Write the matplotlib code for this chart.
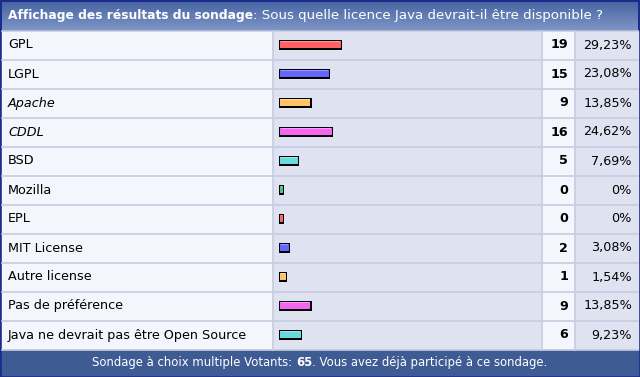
import matplotlib
matplotlib.use("Agg")
import matplotlib.pyplot as plt
import numpy as np
from matplotlib.patches import Rectangle
from matplotlib.colors import LinearSegmentedColormap

# poll data
options = [
    "GPL", "LGPL", "Apache", "CDDL", "BSD", "Mozilla", "EPL",
    "MIT License", "Autre license", "Pas de préférence",
    "Java ne devrait pas être Open Source",
]
votes = [19, 15, 9, 16, 5, 0, 0, 2, 1, 9, 6]
percents = [29.23, 23.08, 13.85, 24.62, 7.69, 0, 0, 3.08, 1.54, 13.85, 9.23]
italic_options = ["Apache", "CDDL"]
total_voters = 65

title_bold = "Affichage des résultats du sondage"
title_rest = ": Sous quelle licence Java devrait-il être disponible ?"

BAR_COLORS = ["#ff6262", "#6666ff", "#ffc466", "#f466f0", "#66dcdc", "#4cc47c"]

W, H = 640, 377
ROW_H = 29
TOP = 31
X_LABEL, X_BAR, X_COUNT, X_PCT, X_END = 2, 273, 542, 575, 637
LIGHT = "#f4f5fd"
MID = "#dfe3f1"
GRID = "#c8cce0"
BORDER = "#1c2c8c"

fig = plt.figure(figsize=(W / 100, H / 100), dpi=100)
ax = fig.add_axes([0, 0, 1, 1])
ax.set_xlim(0, W)
ax.set_ylim(H, 0)
ax.axis("off")

# outer frame
ax.add_patch(Rectangle((0, 0), W, H, color=BORDER, zorder=0))

# header gradient
grad = np.linspace(0, 1, 64).reshape(-1, 1)
hcmap = LinearSegmentedColormap.from_list("hdr", ["#4966a3", "#7d95c6"])
ax.imshow(grad, cmap=hcmap, extent=(2, X_END + 1, TOP - 1, 2), aspect="auto", zorder=1)

n = len(options)
body_bottom = TOP + n * ROW_H

# column backgrounds
for x0, x1, c in [(X_LABEL, X_BAR, LIGHT), (X_BAR, X_COUNT, MID),
                  (X_COUNT, X_PCT, LIGHT), (X_PCT, X_END + 1, MID)]:
    ax.add_patch(Rectangle((x0, TOP), x1 - x0, body_bottom - TOP, color=c, zorder=1))

# grid lines
for i in range(n + 1):
    y = TOP + i * ROW_H - 0.5
    ax.plot([X_LABEL, X_END + 1], [y, y], color=GRID, lw=1.2, zorder=2)
for x in [X_BAR, X_COUNT, X_PCT]:
    ax.plot([x - 0.5, x - 0.5], [TOP, body_bottom], color=GRID, lw=1.2, zorder=2)

# footer
ax.add_patch(Rectangle((2, body_bottom), X_END - 1, H - 2 - body_bottom,
                       color="#3e5b94", zorder=1))

centers = [TOP + i * ROW_H + ROW_H / 2 - 0.5 for i in range(n)]
widths = [5 + 2.0 * p for p in percents]
colors = [BAR_COLORS[i % len(BAR_COLORS)] for i in range(n)]

# bars: black shadow, coloured body, light highlight
ax.barh(centers, widths, height=10, left=X_BAR + 6, color="black", zorder=3)
ax.barh([c - 0.75 for c in centers], [w - 2.5 for w in widths], height=7.5,
        left=X_BAR + 7, color=colors, zorder=4)
ax.barh([c - 3.3 for c in centers], [w - 3.5 for w in widths], height=1.2,
        left=X_BAR + 7.5, color="white", alpha=0.35, zorder=5)

FS = 9.2
for i, (opt, v, p, cy) in enumerate(zip(options, votes, percents, centers)):
    style = "italic" if opt in italic_options else "normal"
    ax.text(8, cy, opt, fontsize=FS, style=style, va="center", ha="left",
            color="black", zorder=6)
    ax.text(X_PCT - 7, cy, str(v), fontsize=FS, fontweight="bold",
            va="center", ha="right", zorder=6)
    ptxt = ("%.2f" % p).replace(".", ",") + "%" if p > 0 else "0%"
    ax.text(X_END - 5, cy, ptxt, fontsize=FS, va="center", ha="right", zorder=6)

t1 = ax.text(8, 16, title_bold, fontsize=8.8, fontweight="bold", color="white",
             va="center", ha="left", zorder=6)
ax.annotate(title_rest, xy=(1, 0), xycoords=t1, fontsize=9.6, color="white",
            va="bottom", ha="left", zorder=6)

# footer text, centred as a whole
fy = (body_bottom + H - 2) / 2
parts = [("Sondage à choix multiple Votants: ", "normal"),
         (str(total_voters), "bold"),
         (". Vous avez déjà participé à ce sondage.", "normal")]
texts = [ax.text(0, fy, s, fontsize=8.4, fontweight=w, color="white",
                 va="center", ha="left", zorder=6) for s, w in parts]
fig.canvas.draw()
r = fig.canvas.get_renderer()
ws = [t.get_window_extent(r).width for t in texts]
x = W / 2 - sum(ws) / 2
for t, w in zip(texts, ws):
    t.set_x(x)
    x += w

fig.savefig("out.png", dpi=100)
